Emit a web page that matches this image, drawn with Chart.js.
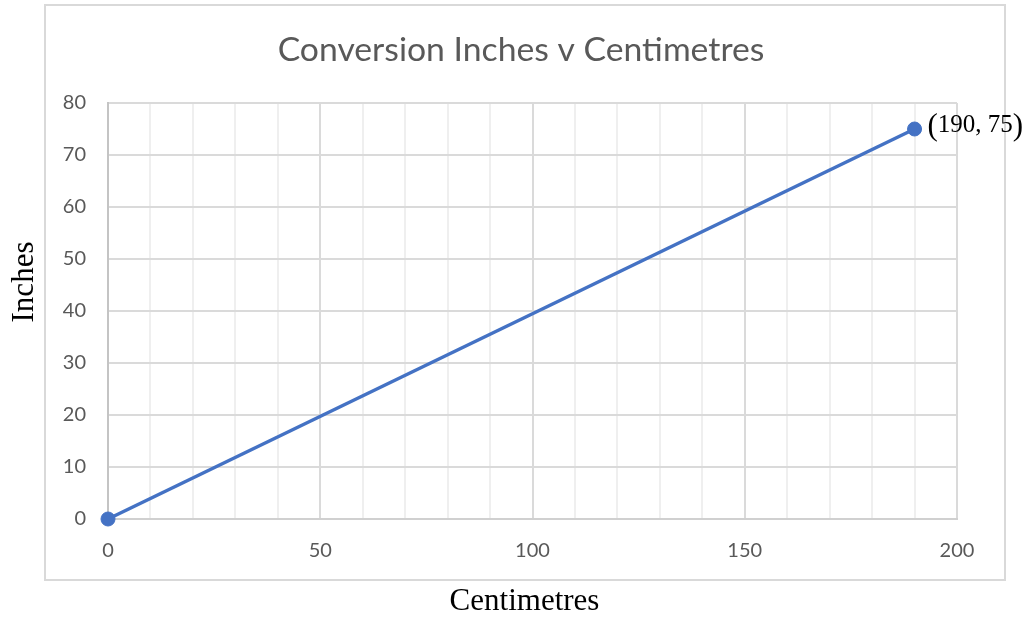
<!DOCTYPE html>
<html>
<head>
<meta charset="utf-8">
<script src="https://cdn.jsdelivr.net/npm/chart.js@4.4.1/dist/chart.umd.min.js"></script>
<style>
  html, body { margin: 0; padding: 0; background: #ffffff; }
  canvas { display: block; }
</style>
</head>
<body>
<canvas id="chart" width="1027" height="618"></canvas>
<script>
// Conversion data: two end points of the line
const centimetres = [0, 190];
const inches = [0, 75];

// Labelled ticks on each axis
const xTickLabels = [0, 50, 100, 150, 200];
const yTickLabels = [0, 10, 20, 30, 40, 50, 60, 70, 80];

const chartTitle = 'Conversion Inches v Centimetres';
const xAxisTitle = 'Centimetres';
const yAxisTitle = 'Inches';

const SANS = 'Lato, "Open Sans", sans-serif';
const SERIF = '"Liberation Serif", "DejaVu Serif", serif';
const TEXT_GREY = '#595959';
const LINE_BLUE = '#4472C4';
const MAJOR_GRID = '#dadada';
const MINOR_GRID = '#efefef';

function fitSize(ctx, text, family, width) {
  ctx.font = '100px ' + family;
  return 100 * width / ctx.measureText(text).width;
}

// Outer frame, chart title, axis titles and the end-point label
const decorations = {
  id: 'decorations',
  beforeDraw(chart) {
    const ctx = chart.ctx;
    ctx.save();
    ctx.fillStyle = '#ffffff';
    ctx.fillRect(0, 0, chart.width, chart.height);
    ctx.strokeStyle = '#d9d9d9';
    ctx.lineWidth = 2;
    ctx.strokeRect(45, 5, 960, 575);
    ctx.restore();
  },
  afterDraw(chart) {
    const ctx = chart.ctx;
    const area = chart.chartArea;
    ctx.save();

    // Chart title
    const titleSize = fitSize(ctx, chartTitle, SANS, 487);
    ctx.font = titleSize + 'px ' + SANS;
    ctx.fillStyle = TEXT_GREY;
    ctx.textAlign = 'center';
    ctx.textBaseline = 'alphabetic';
    ctx.fillText(chartTitle, 521, 61);

    // Axis titles
    ctx.fillStyle = '#000000';
    ctx.font = '31px ' + SERIF;
    ctx.fillText(xAxisTitle, (area.left + area.right) / 2 - 8, 610);

    ctx.save();
    ctx.translate(33, 282);
    ctx.rotate(-Math.PI / 2);
    ctx.fillText(yAxisTitle, 0, 0);
    ctx.restore();

    // Coordinates of the last point, beside its marker
    const last = centimetres.length - 1;
    const pt = chart.getDatasetMeta(0).data[last];
    const inner = centimetres[last] + ', ' + inches[last];
    let x = pt.x + 13;
    const base = pt.y + 3;
    ctx.textAlign = 'left';
    ctx.font = '31px ' + SERIF;
    ctx.fillText('(', x, base + 3);
    x += ctx.measureText('(').width;
    ctx.font = '25px ' + SERIF;
    ctx.fillText(inner, x, base);
    x += ctx.measureText(inner).width;
    ctx.font = '31px ' + SERIF;
    ctx.fillText(')', x, base + 3);

    ctx.restore();
  }
};

const ctx = document.getElementById('chart').getContext('2d');
new Chart(ctx, {
  type: 'scatter',
  data: {
    datasets: [{
      data: centimetres.map((c, i) => ({ x: c, y: inches[i] })),
      showLine: true,
      borderColor: LINE_BLUE,
      backgroundColor: LINE_BLUE,
      borderWidth: 3.5,
      pointRadius: 7,
      pointBorderWidth: 1,
      pointBorderColor: LINE_BLUE,
      pointBackgroundColor: LINE_BLUE,
      tension: 0,
      clip: false
    }]
  },
  options: {
    responsive: false,
    devicePixelRatio: 1,
    animation: false,
    layout: { padding: { left: 0, top: 103, right: 70, bottom: 0 } },
    plugins: {
      legend: { display: false },
      tooltip: { enabled: false },
      title: { display: false }
    },
    scales: {
      x: {
        type: 'linear',
        min: xTickLabels[0],
        max: xTickLabels[xTickLabels.length - 1],
        afterFit(scale) { scale.height = 99; },
        ticks: {
          stepSize: 10,
          autoSkip: false,
          maxRotation: 0,
          padding: 20,
          color: TEXT_GREY,
          font: { family: SANS, size: 20 },
          callback: (v) => xTickLabels.includes(v) ? String(v) : ''
        },
        grid: {
          drawTicks: false,
          lineWidth: 2,
          color: (c) => xTickLabels.includes(c.tick && c.tick.value) ? MAJOR_GRID : MINOR_GRID
        },
        border: { color: '#d0d0d0', width: 2 }
      },
      y: {
        type: 'linear',
        min: yTickLabels[0],
        max: yTickLabels[yTickLabels.length - 1],
        afterFit(scale) { scale.width = 108; },
        ticks: {
          stepSize: 10,
          autoSkip: false,
          padding: 22,
          color: TEXT_GREY,
          font: { family: SANS, size: 20 },
          callback: (v) => yTickLabels.includes(v) ? String(v) : ''
        },
        grid: {
          drawTicks: false,
          lineWidth: 2,
          color: MAJOR_GRID
        },
        border: { color: '#c4c4c4', width: 2 }
      }
    }
  },
  plugins: [decorations]
});
</script>
</body>
</html>
